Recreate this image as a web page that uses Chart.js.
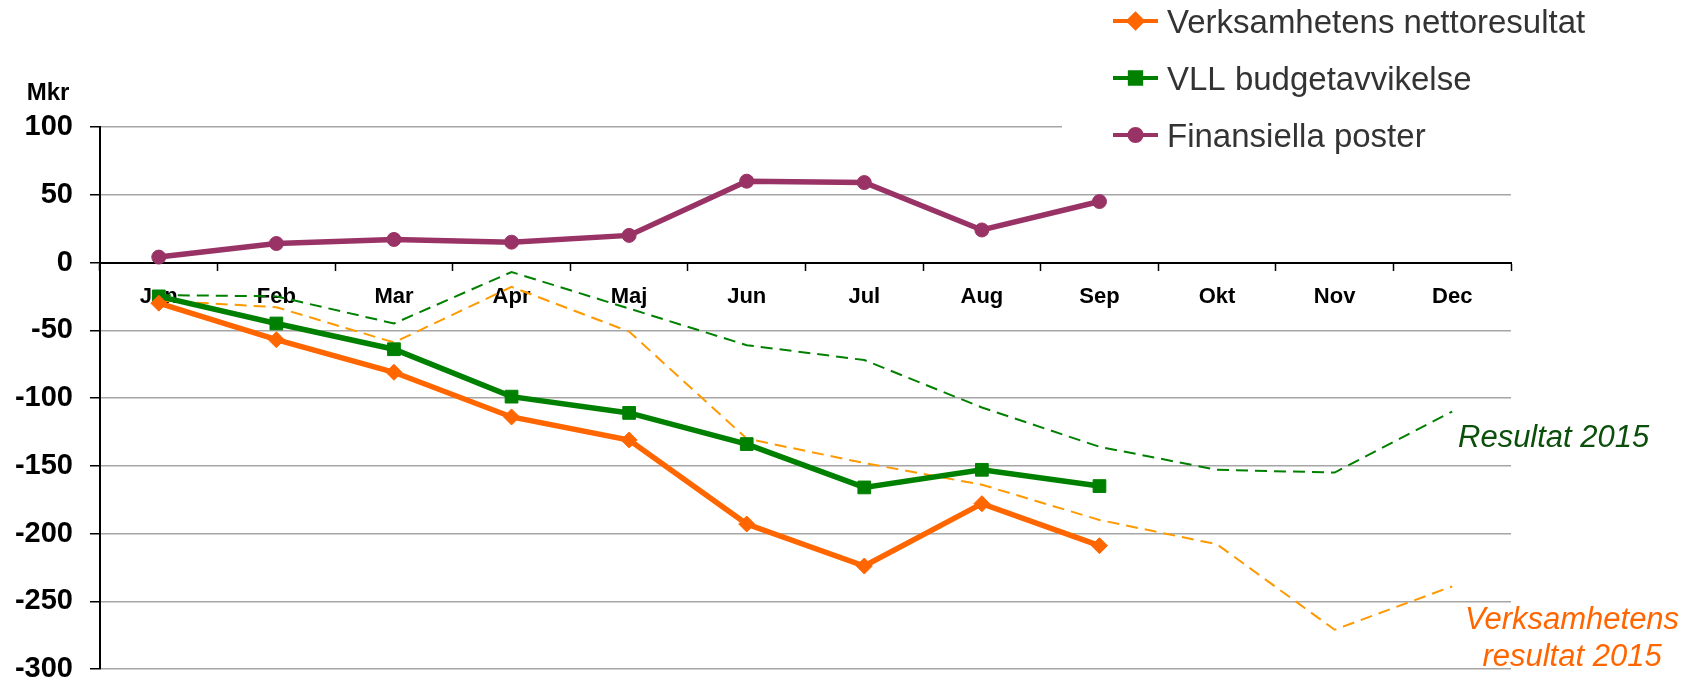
<!DOCTYPE html>
<html lang="sv">
<head>
    <meta charset="UTF-8">
    <title>Resultat per månad</title>
    <script src="https://cdn.jsdelivr.net/npm/chart.js"></script>
    <style>
        html, body { margin: 0; padding: 0; background: #fff; }
        #chart { display: block; }
    </style>
</head>
<body>
    <canvas id="chart" width="1700" height="682"></canvas>
    <script>
        // Chart data (Mkr)
        const months = ['Jan', 'Feb', 'Mar', 'Apr', 'Maj', 'Jun', 'Jul', 'Aug', 'Sep', 'Okt', 'Nov', 'Dec'];
        const nettoresultat = [-30, -57, -81, -114, -131, -193, -224, -178, -209, null, null, null];
        const budgetavvikelse = [-25, -45, -64, -99, -111, -134, -166, -153, -165, null, null, null];
        const finansiella = [4, 14, 17, 15, 20, 60, 59, 24, 45, null, null, null];
        const resultat2015 = [-24, -25, -45, -7, -34, -61, -72, -107, -136, -153, -155, -110];
        const verksamhet2015 = [-28, -33, -59, -18, -51, -130, -148, -164, -190, -208, -271, -239];
        const yTicks = { min: -300, max: 100, step: 50 };

        const FONT = 'Arial, "Liberation Sans", sans-serif';
        const ORANGE = '#ff6600';
        const GREEN = '#008000';
        const PURPLE = '#993366';

        const legendItems = [
            { label: 'Verksamhetens nettoresultat', color: ORANGE, style: 'rectRot', radius: 7 },
            { label: 'VLL budgetavvikelse', color: GREEN, style: 'rect', radius: 8 },
            { label: 'Finansiella poster', color: PURPLE, style: 'circle', radius: 6 }
        ];

        // Legend, unit label and the 2015 annotations
        const extrasPlugin = {
            id: 'extras',
            afterDraw(chart) {
                const ctx = chart.ctx;
                ctx.save();

                // legend box hides the top grid line on the right
                ctx.fillStyle = '#fff';
                ctx.fillRect(1062, 0, 638, 160);

                legendItems.forEach((item, i) => {
                    const base = 33 + i * 57;
                    const y = base - 12;
                    ctx.strokeStyle = item.color;
                    ctx.fillStyle = item.color;
                    ctx.lineWidth = 4;
                    ctx.beginPath();
                    ctx.moveTo(1113, y);
                    ctx.lineTo(1158, y);
                    ctx.stroke();
                    Chart.helpers.drawPoint(ctx, { pointStyle: item.style, radius: item.radius, rotation: 0, borderWidth: 1 }, 1135.5, y);
                    ctx.fillStyle = '#333';
                    ctx.font = '33px ' + FONT;
                    ctx.textAlign = 'left';
                    ctx.textBaseline = 'alphabetic';
                    ctx.fillText(item.label, 1167, base);
                });

                ctx.fillStyle = '#000';
                ctx.font = 'bold 24px ' + FONT;
                ctx.textAlign = 'center';
                ctx.textBaseline = 'middle';
                ctx.fillText('Mkr', 48, 93);

                ctx.font = 'italic 31px ' + FONT;
                ctx.fillStyle = '#0b4f0b';
                ctx.textAlign = 'left';
                ctx.fillText('Resultat 2015', 1458, 438);

                ctx.fillStyle = ORANGE;
                ctx.textAlign = 'center';
                ctx.fillText('Verksamhetens', 1572, 620);
                ctx.fillText('resultat 2015', 1572, 657);
                ctx.restore();
            }
        };

        const chart = new Chart(document.getElementById('chart').getContext('2d'), {
            type: 'line',
            data: {
                labels: months,
                datasets: [
                    {
                        label: 'Verksamhetens nettoresultat',
                        data: nettoresultat,
                        borderColor: ORANGE,
                        backgroundColor: ORANGE,
                        borderWidth: 5.5,
                        pointStyle: 'rectRot',
                        pointRadius: 8,
                        pointBorderWidth: 1
                    },
                    {
                        label: 'VLL budgetavvikelse',
                        data: budgetavvikelse,
                        borderColor: GREEN,
                        backgroundColor: GREEN,
                        borderWidth: 5.5,
                        pointStyle: 'rect',
                        pointRadius: 9,
                        pointBorderWidth: 1
                    },
                    {
                        label: 'Finansiella poster',
                        data: finansiella,
                        borderColor: PURPLE,
                        backgroundColor: PURPLE,
                        borderWidth: 5.5,
                        pointStyle: 'circle',
                        pointRadius: 7,
                        pointBorderWidth: 1
                    },
                    {
                        label: 'Resultat 2015',
                        data: resultat2015,
                        borderColor: GREEN,
                        borderWidth: 2,
                        borderDash: [12, 7],
                        pointRadius: 0
                    },
                    {
                        label: 'Verksamhetens resultat 2015',
                        data: verksamhet2015,
                        borderColor: '#ff9900',
                        borderWidth: 2,
                        borderDash: [12, 7],
                        pointRadius: 0
                    }
                ]
            },
            options: {
                responsive: false,
                animation: false,
                devicePixelRatio: 1,
                layout: { padding: { top: 127, right: 189, bottom: 13, left: 0 } },
                plugins: {
                    legend: { display: false },
                    tooltip: { enabled: false }
                },
                scales: {
                    x: {
                        type: 'category',
                        position: { y: 0 },
                        offset: true,
                        grid: {
                            offset: true,
                            drawOnChartArea: false,
                            drawTicks: true,
                            tickLength: 7,
                            tickColor: '#000',
                            tickWidth: 1.5
                        },
                        border: { color: '#000', width: 2 },
                        ticks: {
                            color: '#000',
                            font: { family: FONT, size: 22, weight: 'bold' },
                            padding: 14,
                            maxRotation: 0,
                            autoSkip: false
                        },
                        afterFit(scale) {
                            scale.paddingLeft = 0;
                            scale.paddingRight = 0;
                        }
                    },
                    y: {
                        min: yTicks.min,
                        max: yTicks.max,
                        ticks: {
                            stepSize: yTicks.step,
                            color: '#000',
                            font: { family: FONT, size: 29, weight: 'bold' },
                            padding: 17
                        },
                        grid: {
                            color: (c) => (c.tick && c.tick.value === 0 ? '#000' : '#a6a6a6'),
                            lineWidth: 1.5,
                            tickLength: 10,
                            tickColor: '#000'
                        },
                        border: { color: '#000', width: 2 },
                        afterFit(scale) {
                            scale.width = 100;
                            scale.paddingTop = 0;
                            scale.paddingBottom = 0;
                        }
                    }
                }
            },
            plugins: [extrasPlugin]
        });
    </script>
</body>
</html>
